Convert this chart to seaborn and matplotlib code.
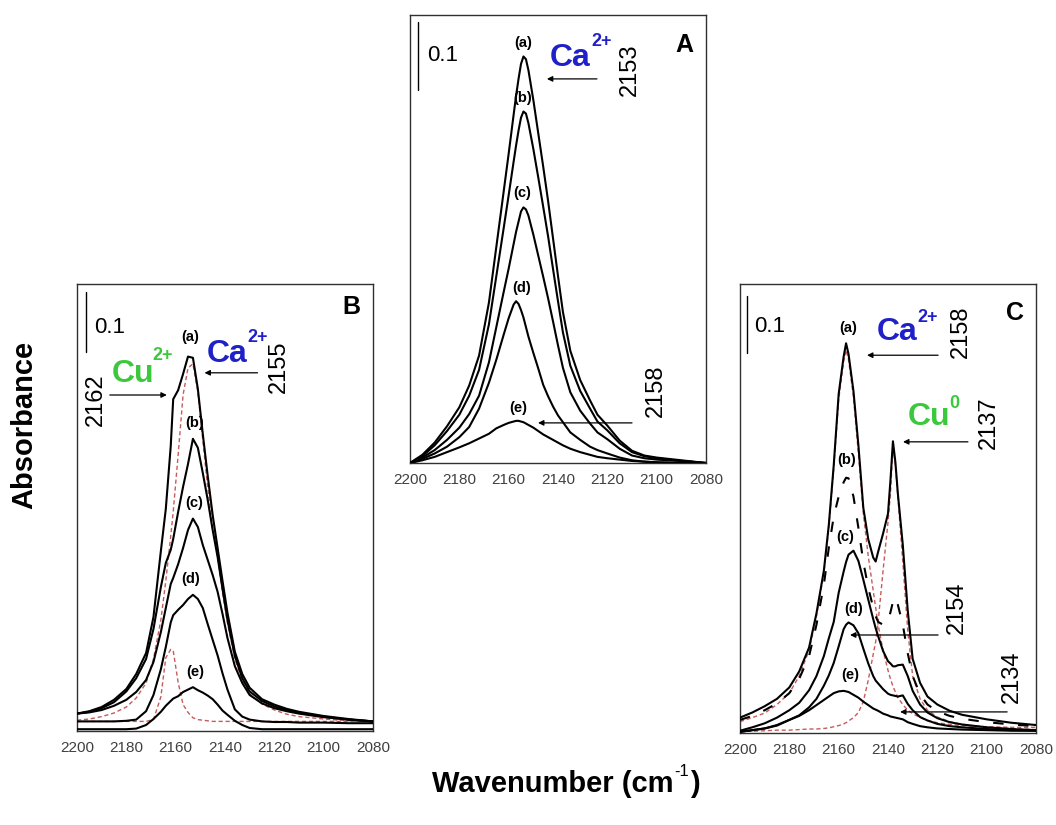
import matplotlib
matplotlib.use("Agg")
import matplotlib.pyplot as plt
import seaborn as sns
import pandas as pd

# ---------------- data ----------------
# Panel A
wn_A = [2200, 2195, 2190, 2185, 2180, 2176, 2172, 2168, 2165, 2162, 2160, 2158, 2157, 2156, 2155,
        2154, 2153, 2152, 2150, 2148, 2146, 2144, 2142, 2140, 2138, 2135, 2131, 2127, 2124, 2120,
        2115, 2110, 2105, 2100, 2090, 2080]
A_a = [0.000, 0.012, 0.030, 0.054, 0.082, 0.114, 0.158, 0.236, 0.318, 0.400, 0.455, 0.512, 0.540, 0.565, 0.587,
       0.598, 0.594, 0.578, 0.534, 0.485, 0.436, 0.385, 0.330, 0.275, 0.222, 0.165, 0.122, 0.092, 0.071, 0.055,
       0.033, 0.018, 0.011, 0.008, 0.004, 0.000]
A_b = [0.000, 0.010, 0.026, 0.047, 0.071, 0.099, 0.137, 0.204, 0.275, 0.346, 0.394, 0.443, 0.467, 0.489, 0.508,
       0.517, 0.514, 0.500, 0.462, 0.420, 0.377, 0.333, 0.285, 0.238, 0.192, 0.143, 0.106, 0.080, 0.061, 0.048,
       0.029, 0.016, 0.010, 0.007, 0.003, 0.000]
A_c = [0.000, 0.008, 0.019, 0.034, 0.052, 0.072, 0.099, 0.148, 0.200, 0.252, 0.286, 0.322, 0.340, 0.355, 0.370,
       0.376, 0.373, 0.364, 0.336, 0.305, 0.274, 0.242, 0.208, 0.173, 0.140, 0.104, 0.077, 0.058, 0.045, 0.035,
       0.021, 0.011, 0.007, 0.005, 0.003, 0.000]
A_d = [0.000, 0.006, 0.014, 0.024, 0.038, 0.053, 0.080, 0.118, 0.152, 0.189, 0.213, 0.233, 0.238, 0.234, 0.225,
       0.214, 0.200, 0.186, 0.162, 0.139, 0.115, 0.098, 0.083, 0.070, 0.060, 0.045, 0.034, 0.024, 0.019, 0.014,
       0.008, 0.004, 0.002, 0.001, 0.000, 0.000]
A_e = [0.000, 0.004, 0.009, 0.016, 0.023, 0.029, 0.036, 0.043, 0.051, 0.056, 0.059, 0.061, 0.062, 0.062, 0.061,
       0.060, 0.058, 0.056, 0.052, 0.047, 0.042, 0.038, 0.034, 0.030, 0.026, 0.021, 0.016, 0.012, 0.009, 0.007,
       0.005, 0.003, 0.002, 0.001, 0.000, 0.000]

# Panel B
wn_B = [2200, 2195, 2190, 2185, 2180, 2176, 2172, 2169, 2166, 2164, 2162, 2161, 2159, 2157, 2155,
        2153, 2151, 2149, 2147, 2145, 2143, 2141, 2139, 2136, 2133, 2130, 2125, 2120, 2115, 2110,
        2100, 2090, 2080]
B_a = [0.029, 0.033, 0.040, 0.052, 0.070, 0.095, 0.130, 0.190, 0.300, 0.370, 0.475, 0.553, 0.568, 0.595, 0.624,
       0.622, 0.570, 0.495, 0.425, 0.360, 0.305, 0.250, 0.197, 0.132, 0.095, 0.072, 0.053, 0.044, 0.037, 0.032,
       0.025, 0.020, 0.016]
B_b = [0.029, 0.032, 0.038, 0.048, 0.066, 0.088, 0.120, 0.170, 0.240, 0.280, 0.302, 0.320, 0.365, 0.407, 0.445,
       0.487, 0.472, 0.430, 0.385, 0.335, 0.290, 0.237, 0.185, 0.125, 0.088, 0.066, 0.050, 0.041, 0.035, 0.030,
       0.024, 0.019, 0.016]
B_c = [0.029, 0.031, 0.035, 0.042, 0.052, 0.065, 0.085, 0.115, 0.165, 0.205, 0.245, 0.255, 0.278, 0.305, 0.335,
       0.354, 0.340, 0.310, 0.285, 0.260, 0.232, 0.195, 0.155, 0.108, 0.080, 0.060, 0.046, 0.038, 0.033, 0.029,
       0.023, 0.019, 0.016]
B_d = [0.016, 0.016, 0.016, 0.016, 0.017, 0.019, 0.033, 0.060, 0.103, 0.140, 0.181, 0.193, 0.202, 0.210, 0.220,
       0.227, 0.220, 0.205, 0.178, 0.152, 0.126, 0.096, 0.069, 0.036, 0.024, 0.019, 0.016, 0.015, 0.015, 0.014,
       0.014, 0.013, 0.013]
B_e = [0.003, 0.003, 0.003, 0.003, 0.003, 0.004, 0.010, 0.020, 0.032, 0.042, 0.050, 0.054, 0.058, 0.065, 0.069,
       0.073, 0.068, 0.064, 0.059, 0.053, 0.044, 0.034, 0.027, 0.017, 0.010, 0.005, 0.003, 0.003, 0.003, 0.003,
       0.003, 0.003, 0.003]
B_fit_Cu = [0.016, 0.016, 0.016, 0.016, 0.016, 0.016, 0.016, 0.019, 0.057, 0.122, 0.136, 0.134, 0.081, 0.044, 0.031,
            0.022, 0.019, 0.018, 0.017, 0.016, 0.016, 0.016, 0.016, 0.016, 0.016, 0.016, 0.016, 0.016, 0.016, 0.016,
            0.016, 0.016, 0.016]
B_fit_Ca = [0.018, 0.020, 0.024, 0.030, 0.040, 0.055, 0.080, 0.120, 0.185, 0.250, 0.325, 0.365, 0.460, 0.560, 0.605,
            0.612, 0.565, 0.485, 0.405, 0.340, 0.290, 0.230, 0.180, 0.120, 0.085, 0.062, 0.045, 0.035, 0.028, 0.024,
            0.020, 0.017, 0.016]

# Panel C
wn_C = [2200, 2195, 2190, 2185, 2180, 2176, 2172, 2169, 2166, 2164, 2162, 2160, 2158, 2157, 2156,
        2154, 2152, 2150, 2148, 2146, 2145, 2144, 2142, 2140, 2139, 2138, 2137, 2136, 2134, 2132,
        2130, 2127, 2124, 2120, 2115, 2110, 2100, 2090, 2080]
C_a = [0.027, 0.036, 0.047, 0.060, 0.080, 0.108, 0.150, 0.210, 0.285, 0.365, 0.470, 0.595, 0.660, 0.684, 0.665,
       0.600, 0.505, 0.395, 0.340, 0.308, 0.301, 0.318, 0.350, 0.385, 0.444, 0.512, 0.475, 0.420, 0.330, 0.215,
       0.130, 0.088, 0.064, 0.050, 0.039, 0.032, 0.024, 0.018, 0.014]
C_b = [0.023, 0.030, 0.040, 0.052, 0.070, 0.095, 0.135, 0.190, 0.260, 0.325, 0.380, 0.415, 0.440, 0.448, 0.447,
       0.415, 0.360, 0.300, 0.255, 0.220, 0.205, 0.195, 0.190, 0.196, 0.212, 0.230, 0.238, 0.225, 0.190, 0.140,
       0.100, 0.068, 0.050, 0.038, 0.030, 0.025, 0.019, 0.015, 0.012]
C_c = [0.004, 0.010, 0.017, 0.027, 0.040, 0.053, 0.075, 0.100, 0.135, 0.166, 0.195, 0.246, 0.283, 0.300, 0.313,
       0.320, 0.302, 0.269, 0.234, 0.200, 0.184, 0.170, 0.144, 0.126, 0.122, 0.117, 0.117, 0.119, 0.120, 0.100,
       0.074, 0.050, 0.036, 0.026, 0.019, 0.015, 0.010, 0.007, 0.005]
C_d = [0.002, 0.005, 0.008, 0.014, 0.023, 0.031, 0.045, 0.060, 0.083, 0.101, 0.123, 0.152, 0.182, 0.190, 0.194,
       0.189, 0.175, 0.148, 0.122, 0.100, 0.092, 0.087, 0.077, 0.069, 0.067, 0.066, 0.065, 0.064, 0.066, 0.051,
       0.040, 0.028, 0.022, 0.016, 0.012, 0.010, 0.007, 0.005, 0.004]
C_e = [0.002, 0.005, 0.008, 0.013, 0.023, 0.030, 0.040, 0.049, 0.058, 0.064, 0.070, 0.073, 0.074, 0.073, 0.072,
       0.067, 0.062, 0.055, 0.049, 0.043, 0.041, 0.039, 0.034, 0.031, 0.029, 0.028, 0.027, 0.026, 0.024, 0.019,
       0.016, 0.012, 0.010, 0.008, 0.007, 0.006, 0.005, 0.004, 0.004]
C_fit_Ca = [0.020, 0.027, 0.035, 0.050, 0.070, 0.100, 0.145, 0.205, 0.280, 0.360, 0.465, 0.585, 0.652, 0.672, 0.655,
            0.590, 0.490, 0.385, 0.310, 0.250, 0.220, 0.190, 0.145, 0.110, 0.095, 0.082, 0.072, 0.062, 0.050, 0.040,
            0.034, 0.027, 0.022, 0.018, 0.015, 0.013, 0.011, 0.010, 0.010]
C_fit_Cu = [0.003, 0.003, 0.004, 0.005, 0.005, 0.006, 0.007, 0.007, 0.008, 0.009, 0.011, 0.013, 0.016, 0.018, 0.021,
            0.027, 0.036, 0.055, 0.093, 0.138, 0.160, 0.195, 0.285, 0.370, 0.420, 0.505, 0.470, 0.415, 0.300, 0.180,
            0.100, 0.060, 0.040, 0.028, 0.020, 0.015, 0.010, 0.008, 0.006]

x_ticks = [2200, 2180, 2160, 2140, 2120, 2100, 2080]
x_tick_labels = ["2200", "2180", "2160", "2140", "2120", "2100", "2080"]
curve_labels = ["(a)", "(b)", "(c)", "(d)", "(e)"]
scale_bar = 0.1

# ---------------- style ----------------
sns.set_style("white")
plt.rcParams["font.family"] = ["Liberation Sans", "DejaVu Sans"]
plt.rcParams["mathtext.default"] = "regular"
plt.rcParams["text.color"] = "black"

W, H = 1056, 825
fig = plt.figure(figsize=(W / 100, H / 100), dpi=100)
fig.patch.set_facecolor("white")

BLUE = "#2020c8"
GREEN = "#3cc83c"
RED = "#c85a5a"


def make_ax(left, top, bottom, ymax):
    ax = fig.add_axes([left / W, (H - bottom) / H, 296 / W, (bottom - top) / H])
    ax.set_xlim(2200, 2080)
    ax.set_ylim(0, ymax)
    ax.set_xticks(x_ticks)
    ax.set_xticklabels(x_tick_labels)
    ax.set_xticks(list(range(2190, 2080, -20)), minor=True)
    ax.set_yticks([])
    ax.tick_params(axis="x", which="major", direction="in", length=6, width=0.8,
                   labelsize=11, labelcolor="#404040", pad=7, color="#222222")
    ax.tick_params(axis="x", which="minor", direction="in", length=4, width=0.8, color="#222222")
    for s in ax.spines.values():
        s.set_visible(True)
        s.set_color("#303030")
        s.set_linewidth(1.0)
    ax.set_xlabel("")
    ax.set_ylabel("")
    ax.set_facecolor("white")
    return ax


def curve(ax, x, y, color="black", lw=1.5, ls="-", z=3):
    df = pd.DataFrame({"wn": x, "abs": y})
    sns.lineplot(data=df, x="wn", y="abs", ax=ax, color=color, linewidth=lw,
                 linestyle=ls, estimator=None, sort=False, zorder=z)
    ax.set_xlabel("")
    ax.set_ylabel("")


def arrow(ax, tail, head, y):
    ax.annotate("", xy=(head, y), xytext=(tail, y),
                arrowprops=dict(arrowstyle="-|>", color="black", lw=0.9,
                                mutation_scale=8, shrinkA=0, shrinkB=0))


def bar(ax, x, y0):
    ax.plot([x, x], [y0, y0 + scale_bar], color="black", lw=1.0)


def lab(ax, x, y, s):
    ax.text(x, y, s, fontsize=10.5, fontweight="bold", ha="center", va="center", color="black")


def ion(ax, x, y, base, sup, color, supdx, supdy):
    ax.text(x, y, base, color=color, fontsize=23, fontweight="bold", ha="left", va="baseline")
    ax.text(x + supdx, y + supdy, sup, color=color, fontsize=13, fontweight="bold",
            ha="left", va="baseline")


def num(ax, x, y, s):
    ax.text(x, y, s, fontsize=17, rotation=90, ha="center", va="center", color="black")


# ---------------- Panel A ----------------
axA = make_ax(410, 15, 463, 0.659)
for yv in [A_a, A_b, A_c, A_d, A_e]:
    curve(axA, wn_A, yv)
bar(axA, 2196.8, 0.549)
axA.text(2186.6, 0.599, "0.1", fontsize=16, ha="center", va="center")
axA.text(2088.9, 0.615, "A", fontsize=18, fontweight="bold", ha="center", va="center")
for (xx, yy), s in zip([(2154.2, 0.618), (2154.2, 0.537), (2154.6, 0.397), (2154.6, 0.257), (2156.2, 0.081)],
                       curve_labels):
    lab(axA, xx, yy, s)
ion(axA, 2143.3, 0.584, "Ca", "2+", BLUE, -17.0, 0.030)
num(axA, 2110.8, 0.579, "2153")
arrow(axA, 2124.2, 2144.5, 0.565)
num(axA, 2100.3, 0.106, "2158")
arrow(axA, 2110.0, 2148.1, 0.059)

# ---------------- Panel B ----------------
axB = make_ax(77, 284, 731, 0.745)
curve(axB, wn_B, B_fit_Ca, color=RED, lw=1.0, ls=(0, (3, 2)), z=2)
curve(axB, wn_B, B_fit_Cu, color=RED, lw=1.0, ls=(0, (3, 2)), z=2)
for yv in [B_a, B_b, B_c, B_d, B_e]:
    curve(axB, wn_B, yv)
bar(axB, 2196.5, 0.632)
axB.text(2186.7, 0.673, "0.1", fontsize=16, ha="center", va="center")
axB.text(2088.7, 0.707, "B", fontsize=18, fontweight="bold", ha="center", va="center")
for (xx, yy), s in zip([(2154.3, 0.657), (2152.3, 0.513), (2152.3, 0.380), (2154.0, 0.253), (2152.2, 0.099)],
                       curve_labels):
    lab(axB, xx, yy, s)
ion(axB, 2147.4, 0.615, "Ca", "2+", BLUE, -16.6, 0.033)
num(axB, 2118.3, 0.607, "2155")
arrow(axB, 2126.8, 2148.3, 0.597)
ion(axB, 2185.9, 0.582, "Cu", "2+", GREEN, -16.6, 0.036)
num(axB, 2192.4, 0.552, "2162")
arrow(axB, 2186.7, 2163.6, 0.560)

# ---------------- Panel C ----------------
axC = make_ax(740, 284, 733, 0.788)
curve(axC, wn_C, C_fit_Ca, color=RED, lw=1.0, ls=(0, (3, 2)), z=2)
curve(axC, wn_C, C_fit_Cu, color=RED, lw=1.0, ls=(0, (3, 2)), z=2)
curve(axC, wn_C, C_a)
curve(axC, wn_C, C_b, ls=(0, (5, 7)))
for yv in [C_c, C_d, C_e]:
    curve(axC, wn_C, yv)
bar(axC, 2197.2, 0.667)
axC.text(2187.8, 0.714, "0.1", fontsize=16, ha="center", va="center")
axC.text(2088.5, 0.737, "C", fontsize=18, fontweight="bold", ha="center", va="center")
for (xx, yy), s in zip([(2156.2, 0.711), (2156.6, 0.479), (2157.4, 0.344), (2153.9, 0.217), (2155.4, 0.102)],
                       curve_labels):
    lab(axC, xx, yy, s)
ion(axC, 2144.6, 0.689, "Ca", "2+", BLUE, -16.6, 0.032)
num(axC, 2110.4, 0.704, "2158")
arrow(axC, 2119.7, 2148.5, 0.663)
ion(axC, 2131.9, 0.540, "Cu", "0", GREEN, -16.6, 0.030)
num(axC, 2099.1, 0.544, "2137")
arrow(axC, 2107.6, 2133.9, 0.511)
num(axC, 2112.0, 0.219, "2154")
arrow(axC, 2119.7, 2155.4, 0.172)
num(axC, 2089.7, 0.098, "2134")
arrow(axC, 2091.7, 2135.1, 0.037)

# ---------------- global labels ----------------
fig.text(24 / W, 1 - 425 / H, "Absorbance", rotation=90, fontsize=21, fontweight="bold",
         ha="center", va="center", color="black")
t1 = fig.text(432 / W, 1 - 784 / H, "Wavenumber (cm", fontsize=21, fontweight="bold",
              ha="left", va="center", color="black")
fig.canvas.draw()
bb = t1.get_window_extent()
x_end = bb.x1 / W
t2 = fig.text(x_end + 1 / W, 1 - 772 / H, "-1", fontsize=12, ha="left", va="center", color="black")
fig.canvas.draw()
bb2 = t2.get_window_extent()
fig.text(bb2.x1 / W + 1 / W, 1 - 784 / H, ")", fontsize=21, fontweight="bold",
         ha="left", va="center", color="black")

fig.savefig("out.png", dpi=100, facecolor="white")
